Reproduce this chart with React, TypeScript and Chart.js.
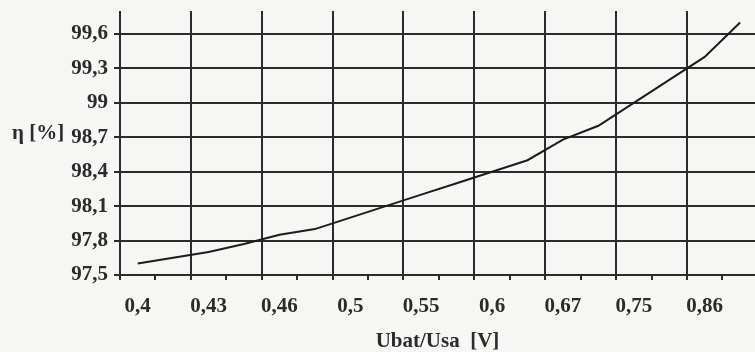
import React, { useEffect, useRef } from "react";
import { Chart, registerables } from "chart.js";

Chart.register(...registerables);

// Category labels on the x axis (one per two measurements)
const categoryLabels = ["0,4", "0,43", "0,46", "0,5", "0,55", "0,6", "0,67", "0,75", "0,86"];
// Efficiency measurements (two per category step)
const efficiency = [
  97.6, 97.65, 97.7, 97.77, 97.85, 97.9, 98.0, 98.1, 98.2,
  98.3, 98.4, 98.5, 98.68, 98.8, 99.0, 99.2, 99.4, 99.7,
];
const yTickValues = [97.5, 97.8, 98.1, 98.4, 98.7, 99, 99.3, 99.6];
const yTickLabels = ["97,5", "97,8", "98,1", "98,4", "98,7", "99", "99,3", "99,6"];
const xTitle = "Ubat/Usa  [V]";
const yTitle = "η [%]";
const yTitleRowValue = 98.7;

const FONT = '"Liberation Serif", "Times New Roman", serif';
const INK = "#2b2b2b";
const LINE = "#1c1c1c";

function isMajor(v: number) {
  const k = (v + 0.5) / 2;
  return Math.abs(k - Math.round(k)) < 1e-6;
}

const yLabelPlugin = {
  id: "yLabel",
  afterDraw(chart: any) {
    const ctx = chart.ctx;
    const y = chart.scales.y.getPixelForValue(yTitleRowValue) - 4;
    ctx.save();
    ctx.font = `bold 21px ${FONT}`;
    ctx.fillStyle = INK;
    ctx.textAlign = "left";
    ctx.textBaseline = "middle";
    ctx.fillText(yTitle, 12, y);
    ctx.restore();
  },
};

export default function App() {
  const ref = useRef<HTMLCanvasElement | null>(null);

  useEffect(() => {
    if (!ref.current) return;
    const nPoints = efficiency.length;
    const xTicks: number[] = [];
    for (let k = 0; k < categoryLabels.length; k++) {
      xTicks.push(-0.5 + 2 * k);
      xTicks.push(0.5 + 2 * k);
    }
    const chart = new Chart(ref.current, {
      type: "line",
      data: {
        datasets: [
          {
            data: efficiency.map((v, i) => ({ x: i, y: v })),
            borderColor: LINE,
            borderWidth: 2,
            pointRadius: 0,
            tension: 0,
            fill: false,
          },
        ],
      },
      options: {
        animation: false,
        responsive: false,
        layout: { padding: { top: 11, left: 0, right: 0, bottom: 0 } },
        plugins: { legend: { display: false }, tooltip: { enabled: false } },
        scales: {
          x: {
            type: "linear",
            min: -0.5,
            max: nPoints - 0.58,
            afterBuildTicks: (scale: any) => {
              scale.ticks = xTicks.map((v) => ({ value: v }));
            },
            afterFit: (scale: any) => {
              scale.height = 77;
              scale.paddingLeft = 0;
              scale.paddingRight = 0;
            },
            ticks: {
              autoSkip: false,
              maxRotation: 0,
              minRotation: 0,
              padding: 14,
              labelOffset: 17.7,
              color: INK,
              font: { family: FONT, size: 21, weight: "bold" },
              callback: (value: any) => {
                const v = Number(value);
                if (!isMajor(v)) return "";
                return categoryLabels[Math.round((v + 0.5) / 2)];
              },
            },
            grid: {
              color: (c: any) => (c.tick && isMajor(c.tick.value) ? INK : "rgba(0,0,0,0)"),
              tickColor: INK,
              lineWidth: 2,
              tickLength: 5,
              drawTicks: true,
            },
            border: { display: false },
            title: {
              display: true,
              text: xTitle,
              color: INK,
              padding: 0,
              font: { family: FONT, size: 21, weight: "bold", lineHeight: 1 },
            },
          },
          y: {
            type: "linear",
            min: 97.5,
            max: 99.8,
            afterBuildTicks: (scale: any) => {
              scale.ticks = yTickValues.map((v) => ({ value: v }));
            },
            afterFit: (scale: any) => {
              scale.width = 120;
              scale.paddingTop = 0;
              scale.paddingBottom = 0;
            },
            ticks: {
              padding: 6,
              color: INK,
              font: { family: FONT, size: 21, weight: "bold" },
              callback: (_v: any, i: number) => yTickLabels[i],
            },
            grid: {
              color: INK,
              tickColor: INK,
              lineWidth: 2,
              tickLength: 6,
            },
            border: { display: false },
          },
        },
      },
      plugins: [yLabelPlugin],
    } as any);
    return () => chart.destroy();
  }, []);

  return (
    <div
      style={{
        position: "fixed",
        left: 0,
        top: 0,
        width: 755,
        height: 352,
        background: "#f6f6f4",
        overflow: "hidden",
      }}
    >
      <canvas ref={ref} width={755} height={352} style={{ display: "block" }} />
    </div>
  );
}
